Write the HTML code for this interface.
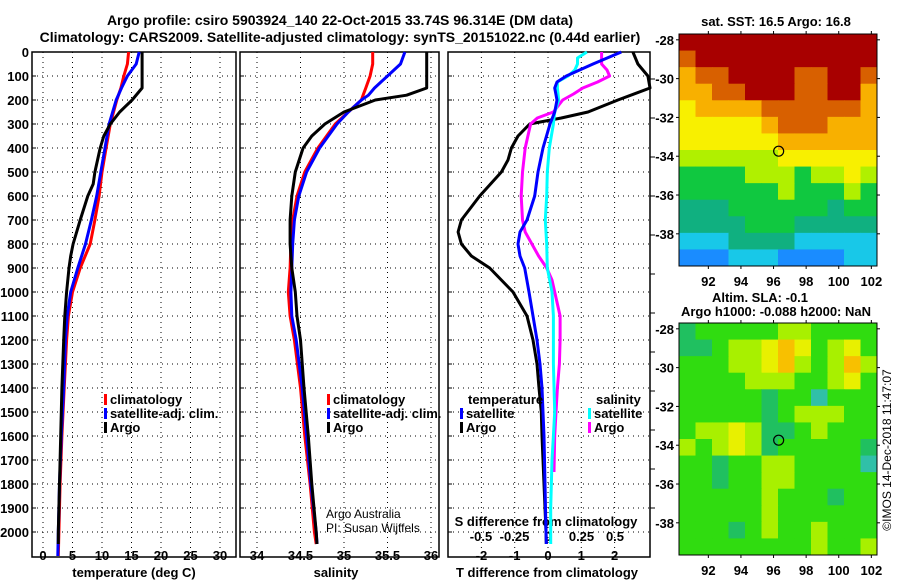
<!DOCTYPE html>
<html><head><meta charset="utf-8"><style>
body{margin:0;background:#fff;}
svg{display:block;font-family:"Liberation Sans",sans-serif;}
text{font-weight:bold;font-size:13px;}
</style></head><body>
<svg id="c" width="900" height="580"></svg>
<script>
// ---------- data ----------
const tempDepth=[0,50,100,150,200,250,300,350,400,500,550,600,700,800,850,900,1000,1100,1200,1400,1600,1800,2000,2050];
const tempArgo=[16.8,16.8,16.8,16.8,15.1,13.0,11.4,10.3,9.7,8.8,8.5,7.6,6.3,5.1,4.7,4.4,4.0,3.7,3.5,3.2,3.0,2.8,2.6,2.6];
const climDepth=[0,50,100,150,200,300,400,500,600,700,800,900,1000,1100,1200,1400,1600,1800,2000,2100];
const tempClim=[14.5,14.3,13.7,13.2,12.5,11.4,10.7,10.0,9.5,8.8,8.0,6.3,5.0,4.3,4.0,3.6,3.2,2.9,2.7,2.6];
const tempSat=[16.3,15.8,14.3,13.3,12.4,11.2,10.5,9.8,9.1,8.2,7.2,5.9,4.7,4.1,3.8,3.5,3.1,2.8,2.6,2.5];
const salDepth=[0,50,100,150,180,200,250,300,350,400,500,600,700,800,900,1000,1100,1200,1400,1600,1800,2000,2050];
const salArgo=[35.95,35.95,35.95,35.95,35.72,35.36,35.0,34.78,34.63,34.53,34.44,34.40,34.38,34.38,34.40,34.44,34.46,34.50,34.54,34.59,34.63,34.68,34.69];
const salClim=[35.33,35.33,35.3,35.25,35.22,35.2,35.05,34.9,34.8,34.7,34.55,34.46,34.41,34.39,34.38,34.36,34.38,34.43,34.5,34.55,34.61,34.66,34.68];
const salSat=[35.7,35.65,35.5,35.35,35.28,35.2,35.05,34.92,34.82,34.72,34.57,34.48,34.43,34.41,34.4,34.39,34.4,34.45,34.52,34.57,34.62,34.68,34.69];
const dtArgoDepth=[0,50,100,150,200,250,275,300,350,400,450,500,600,700,750,800,850,900,1000,1100,1200,1300,1400,1500,1600,1700,1800,1900,2000,2050];
const dtArgo=[2.55,2.7,3.0,3.3,2.1,1.2,0.4,-0.55,-0.9,-1.1,-1.2,-1.4,-2.05,-2.6,-2.7,-2.6,-2.3,-1.75,-1.05,-0.63,-0.45,-0.33,-0.27,-0.2,-0.18,-0.15,-0.12,-0.09,-0.06,-0.05];
const dtSatDepth=[0,50,75,100,125,150,200,250,300,400,500,600,700,750,800,850,900,1000,1100,1200,1300,1400,1600,1800,2000,2050];
const dtSat=[2.2,1.35,0.95,0.55,0.27,0.2,0.27,0.2,0.06,-0.15,-0.3,-0.4,-0.63,-0.84,-0.9,-0.84,-0.7,-0.57,-0.45,-0.33,-0.24,-0.18,-0.12,-0.09,-0.06,-0.05];
const dsSatDepth=[0,25,50,75,100,125,150,200,250,300,400,500,600,700,800,900,1000,1100,1300,1500,1600,1700,1900,2050];
const dsSat=[0.29,0.22,0.22,0.2,0.15,0.07,0.07,0.08,0.05,0.04,0.01,-0.005,-0.01,-0.02,-0.01,-0.005,0.03,0.04,0.04,0.05,0.04,0.03,0.02,0.02];
const dsArgoDepth=[0,50,75,100,125,150,175,200,250,275,300,400,500,600,700,750,800,850,900,950,1000,1100,1200,1300,1400,1500,1600,1750];
const dsArgo=[0.4,0.4,0.44,0.46,0.37,0.26,0.19,0.11,0.04,-0.08,-0.13,-0.17,-0.19,-0.2,-0.19,-0.17,-0.12,-0.07,-0.01,0.03,0.05,0.09,0.09,0.085,0.07,0.06,0.05,0.045];
const depthTicks=[0,100,200,300,400,500,600,700,800,900,1000,1100,1200,1300,1400,1500,1600,1700,1800,1900,2000];
const tempTicks=[0,5,10,15,20,25,30];
const salTicks=[34,34.5,35,35.5,36];
const dtTicks=[-2,-1,0,1,2];
const dsTicks=[-0.5,-0.25,0,0.25,0.5];
const latTicks=[-28,-30,-32,-34,-36,-38];
const lonTicks=[92,94,96,98,100,102];
const sstGrid=[
[8,8,8,8,8,8,8,8,8,8,8,8],
[7,8,8,8,8,8,8,8,8,8,8,8],
[6,7,7,8,8,8,8,7,7,8,8,7],
[6,6,7,7,8,8,8,7,7,8,8,6],
[5,6,6,6,6,7,7,7,7,7,7,6],
[5,5,5,5,5,6,7,7,7,6,6,6],
[5,5,5,5,5,5,6,6,6,6,6,6],
[4,4,4,4,4,4,5,5,5,5,5,5],
[3,3,3,3,4,4,4,3,4,4,5,4],
[3,3,3,3,3,3,4,3,3,3,4,3],
[2,2,2,3,3,3,3,3,3,2,3,3],
[2,2,2,2,3,3,3,2,2,2,2,2],
[1,1,1,2,2,2,2,1,1,1,1,1],
[0,0,0,1,1,1,0,0,0,0,1,1]];
const slaGrid=[
[1,2,2,2,2,2,3,3,2,2,2,2],
[1,1,2,3,3,4,5,4,2,3,4,2],
[2,2,2,3,3,4,5,3,2,3,5,3],
[2,2,2,2,3,3,3,2,2,3,4,2],
[2,2,2,2,2,1,2,2,0,2,2,2],
[2,2,2,2,2,1,2,3,3,3,2,2],
[2,3,3,4,3,1,1,2,3,2,2,2],
[3,2,3,4,3,1,2,2,2,2,2,1],
[2,2,1,2,2,3,3,2,2,2,2,0],
[2,2,1,2,2,3,3,2,2,2,2,2],
[2,2,2,2,2,3,2,2,2,1,2,2],
[2,2,2,2,2,3,2,2,2,2,2,2],
[2,2,2,1,2,3,2,2,3,2,2,2],
[2,2,2,2,2,2,2,2,3,2,2,3]];
const sstColors=['#1a8cff','#18c8e8','#10b080','#10c840','#b0f000','#f8f000','#f8b000','#d86000','#a80000'];
const slaColors=['#30c0a8','#20c060','#30dc10','#a8f000','#e8f000','#f8c000'];
// ---------- helpers ----------
const NS='http://www.w3.org/2000/svg',svg=document.getElementById('c');
function mk(tag,attrs,parent){const e=document.createElementNS(NS,tag);for(const k in attrs)e.setAttribute(k,attrs[k]);(parent||svg).appendChild(e);return e;}
function txt(x,y,s,anchor,size,weight){const t=mk('text',{x:x,y:y,'text-anchor':anchor||'middle'});if(size)t.style.fontSize=size+'px';if(weight)t.style.fontWeight=weight;t.textContent=s;return t;}
const top0=52,pxPer100=24,bot=557;
const yD=d=>top0+d*pxPer100/100;
const xT=v=>43+5.9*v, xS=v=>257+87*(v-34), xDT=v=>548+33.3*v, xDS=v=>548+134*v;
const panels=[[32,236],[240,439],[448,650]];
// panels and grid
panels.forEach((p,i)=>{
  const g=mk('g',{});
  
  
  depthTicks.forEach(d=>{const y=yD(d);mk('line',{x1:p[0],x2:p[1],y1:y,y2:y,stroke:'#000','stroke-dasharray':'1,4','stroke-width':1},g);mk('line',{x1:p[0],x2:p[0]+4,y1:y,y2:y,stroke:'#000'},g);});
  const xs=i==0?tempTicks.map(xT):i==1?salTicks.map(xS):dtTicks.map(xDT);
  xs.forEach(x=>{mk('line',{x1:x,x2:x,y1:top0,y2:bot,stroke:'#000','stroke-dasharray':'1,4'},g);});
  mk('rect',{x:p[0],y:top0,width:p[1]-p[0],height:bot-top0,fill:'none',stroke:'#000','stroke-width':1.5},g);
});
for(let k=0;k<12;k++){const y=79+39*k;if(y>bot)break;const r=mk('line',{x1:650,x2:655,y1:y,y2:y,stroke:'#000'});}
depthTicks.forEach(d=>{const t=txt(29,yD(d)+5,String(d),'end');});
tempTicks.forEach(v=>{const t=txt(xT(v),560,String(v));});
salTicks.forEach(v=>{const t=txt(xS(v),560,String(v));});
dtTicks.forEach(v=>{const t=txt(xDT(v),560,String(v));});
dsTicks.forEach(v=>{const t=txt(xDS(v),541,String(v));});
let t;
t=txt(134,577,'temperature (deg C)');
t=txt(336,577,'salinity');
t=txt(547,577,'T difference from climatology');
t=txt(546,526,'S difference from climatology');
t=txt(340,25,'Argo profile: csiro 5903924_140 22-Oct-2015 33.74S 96.314E (DM data)','middle',14);
t=txt(340,42,'Climatology: CARS2009. Satellite-adjusted climatology: synTS_20151022.nc (0.44d earlier)','middle',14);
t=txt(326,518,'Argo Australia','start',12,'normal');
t=txt(326,532,'PI: Susan Wijffels','start',12,'normal');
// series
function line(dep,val,xf,color,name,w,clip){
  const pts=dep.map((d,i)=>Math.max(clip?clip[0]:-1e9,Math.min(clip?clip[1]:1e9,xf(val[i]))).toFixed(1)+','+yD(d).toFixed(1)).join(' ');
  const p=mk('polyline',{points:pts,fill:'none',stroke:color,'stroke-width':w||3,'stroke-linejoin':'round'});
  
  
}
line(climDepth,tempClim,xT,'#ff0000','temp-climatology-line');
line(climDepth,tempSat,xT,'#0000ff','temp-satellite-line');
line(tempDepth,tempArgo,xT,'#000','temp-argo-line');
line(salDepth,salClim,xS,'#ff0000','salinity-climatology-line');
line(salDepth,salSat,xS,'#0000ff','salinity-satellite-line');
line(salDepth,salArgo,xS,'#000','salinity-argo-line',3,[240,439]);
line(dtArgoDepth,dtArgo,xDT,'#000','t-diff-argo-line',3,[449,650]);
line(dsArgoDepth,dsArgo,xDS,'#ff00ff','s-diff-argo-line');
line(dsSatDepth,dsSat,xDS,'#00ffff','s-diff-satellite-line');
line(dtSatDepth,dtSat,xDT,'#0000ff','t-diff-satellite-line');
// legends
function leg(x,y,color,label,name){
  const g=mk('g',{});
  
  
  mk('rect',{x:x,y:y-10,width:3,height:11,fill:color},g);
  const tt=mk('text',{x:x+6,y:y},g);tt.textContent=label;
}
leg(104,404,'#f00','climatology','legend-entry-climatology');
leg(104,418,'#00f','satellite-adj. clim.','legend-entry-satellite');
leg(104,432,'#000','Argo','legend-entry-argo');
leg(327,404,'#f00','climatology','legend-entry-climatology-sal');
leg(327,418,'#00f','satellite-adj. clim.','legend-entry-satellite-sal');
leg(327,432,'#000','Argo','legend-entry-argo-sal');
t=txt(468,404,'temperature','start');
leg(460,418,'#00f','satellite','legend-entry-t-satellite');
leg(460,432,'#000','Argo','legend-entry-t-argo');
t=txt(596,404,'salinity','start');
leg(588,418,'#0ff','satellite','legend-entry-s-satellite');
leg(588,432,'#f0f','Argo','legend-entry-s-argo');
// maps
function map(y0,grid,cols,name,title1,title2){
  const x0=679,w=198,h=232;
  const g=mk('g',{});
  
  
  const cw=w/grid[0].length,ch=h/grid.length;
  grid.forEach((row,r)=>row.forEach((v,c)=>{mk('rect',{x:(x0+c*cw).toFixed(2),y:(y0+r*ch).toFixed(2),width:(cw+0.5).toFixed(2),height:(ch+0.5).toFixed(2),fill:cols[v]},g);}));
  mk('rect',{x:x0,y:y0,width:w,height:h,fill:'none',stroke:'#000'},g);
  const yL=l=>y0+(-27.7-l)*19.4, xL=l=>x0+(l-90.2)*16.3;
  latTicks.forEach(l=>{mk('line',{x1:x0-3,x2:x0,y1:yL(l),y2:yL(l),stroke:'#000'},g);mk('line',{x1:x0+w,x2:x0+w+3,y1:yL(l),y2:yL(l),stroke:'#000'},g);const tt=mk('text',{x:x0-5,y:yL(l)+5,'text-anchor':'end'},g);tt.textContent=String(l);});
  lonTicks.forEach(l=>{mk('line',{x1:xL(l),x2:xL(l),y1:y0+h,y2:y0+h+3,stroke:'#000'},g);mk('line',{x1:xL(l),x2:xL(l),y1:y0-3,y2:y0,stroke:'#000'},g);const tt=mk('text',{x:xL(l),y:y0+h+20,'text-anchor':'middle'},g);tt.textContent=String(l);});
  const c=mk('circle',{cx:xL(96.314),cy:yL(-33.74),r:5,fill:'none',stroke:'#000','stroke-width':1.2},g);
  
  
}
map(34,sstGrid,sstColors,'sst-map');
map(323,slaGrid,slaColors,'sla-map');
t=txt(776,26,'sat. SST: 16.5 Argo: 16.8');
t=txt(760,302,'Altim. SLA: -0.1');
t=txt(776,316,'Argo h1000: -0.088 h2000: NaN');
t=mk('text',{x:0,y:0,'text-anchor':'middle',transform:'translate(891,450) rotate(-90)'});t.style.fontWeight='normal';t.style.fontSize='12px';t.textContent='©IMOS 14-Dec-2018 11:47:07';


</script>
</body></html>
